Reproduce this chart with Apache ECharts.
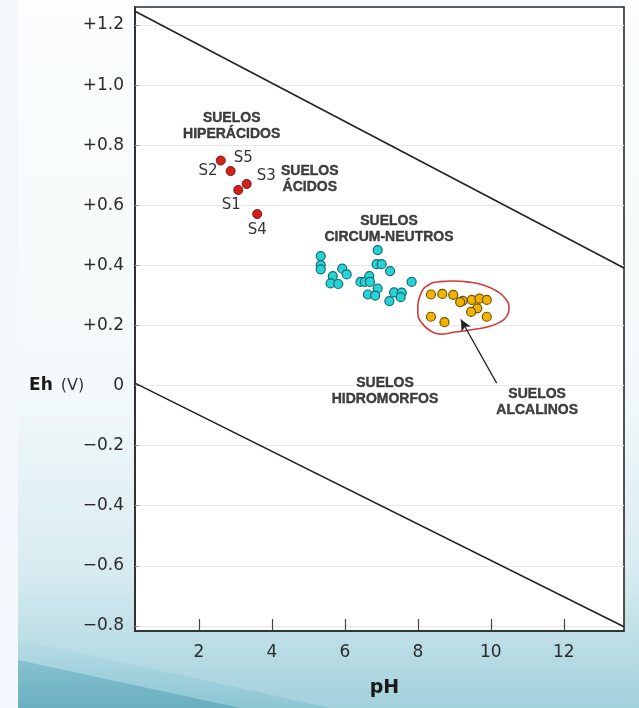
<!DOCTYPE html>
<html>
<head>
<meta charset="utf-8">
<script src="https://cdn.jsdelivr.net/npm/echarts@6/dist/echarts.min.js"></script>
<style>
  html, body { margin: 0; padding: 0; background: #ffffff; }
  #chart { width: 639px; height: 708px; }
</style>
</head>
<body>
<div id="chart"></div>
<script>
// Eh–pH diagram of soil types

// axis ticks
const phTicks = [2, 4, 6, 8, 10, 12];
const ehTicks = [-0.8, -0.6, -0.4, -0.2, 0, 0.2, 0.4, 0.6, 0.8, 1.0, 1.2];
const ehTickLabels = ['−0.8', '−0.6', '−0.4', '−0.2', '0', '+0.2', '+0.4', '+0.6', '+0.8', '+1.0', '+1.2'];

// acid soil samples
const acidNames = ['S5', 'S2', 'S3', 'S1', 'S4'];
const acidPH = [2.60, 2.87, 3.31, 3.08, 3.60];
const acidEh = [0.749, 0.714, 0.671, 0.651, 0.571];

// circum-neutral soils
const neutralPH = [5.34, 5.34, 5.34, 5.67, 5.61, 5.82, 5.93, 6.05, 6.90, 6.87, 7.01, 7.24,
                   6.43, 6.55, 6.67, 6.69, 6.90, 6.63, 6.83, 7.22, 7.35, 7.56, 7.53, 7.83];
const neutralEh = [0.431, 0.401, 0.387, 0.364, 0.340, 0.338, 0.389, 0.370, 0.451, 0.404, 0.404, 0.381,
                   0.345, 0.345, 0.364, 0.345, 0.323, 0.303, 0.299, 0.281, 0.310, 0.309, 0.294, 0.345];

// alkaline soils
const alkalinePH = [8.36, 8.67, 8.97, 9.23, 9.16, 9.48, 9.69, 9.89, 9.63, 9.46, 8.36, 8.73, 9.89];
const alkalineEh = [0.303, 0.305, 0.302, 0.282, 0.278, 0.285, 0.289, 0.285, 0.257, 0.245, 0.229, 0.211, 0.229];

// water stability limits
const upperLimitPH = [0.25, 13.65];
const upperLimitEh = [1.246, 0.391];
const lowerLimitPH = [0.25, 13.65];
const lowerLimitEh = [0.008, -0.803];

// outline around the alkaline group
const outlinePH = [8.00, 8.09, 8.28, 8.61, 8.94, 9.43, 9.81, 10.17, 10.39, 10.50, 10.44, 10.25,
                   9.90, 9.43, 9.02, 8.61, 8.31, 8.11, 8.00, 8.00];
const outlineEh = [0.268, 0.308, 0.334, 0.346, 0.348, 0.344, 0.334, 0.314, 0.291, 0.258, 0.231, 0.211,
                   0.195, 0.185, 0.178, 0.171, 0.185, 0.208, 0.238, 0.268];

// pointer from the alkaline caption to its group
const arrowPH = [10.16, 9.18];
const arrowEh = [0.008, 0.220];

// zone captions
const zoneTitles = ['SUELOS\nHIPERÁCIDOS', 'SUELOS\nÁCIDOS', 'SUELOS\nCIRCUM-NEUTROS', 'SUELOS\nHIDROMORFOS', 'SUELOS\nALCALINOS'];
const zonePH = [2.90, 5.04, 7.21, 7.10, 11.27];
const zoneEh = [0.862, 0.686, 0.521, -0.017, -0.054];

const zip = (a, b) => a.map((v, i) => [v, b[i]]);

const sampleLabelPlacement = {
  S5: { position: 'right', distance: 8, offset: [0, -2] },
  S2: { position: 'left', distance: 8, offset: [0, 0] },
  S3: { position: 'right', distance: 5, offset: [0, -8] },
  S1: { position: 'bottom', distance: 3, offset: [-7, 0] },
  S4: { position: 'bottom', distance: 4, offset: [0, 0] }
};

// decorative swoosh in the lower-left corner of the page (quadratic curve sampled to a polygon)
function swoosh(x0, y0, cx, cy, x1, y1) {
  const pts = [];
  for (let k = 0; k <= 24; k++) {
    const t = k / 24, u = 1 - t;
    pts.push([u * u * x0 + 2 * u * t * cx + t * t * x1, u * u * y0 + 2 * u * t * cy + t * t * y1]);
  }
  pts.push([x0, y1]);
  return pts;
}

const chart = echarts.init(document.getElementById('chart'), null, { renderer: 'canvas' });

const capFont = 'Liberation Sans, Arial, sans-serif';
const numFont = 'DejaVu Sans, Verdana, sans-serif';

const option = {
  animation: false,
  backgroundColor: {
    type: 'linear', x: 0, y: 0, x2: 0, y2: 1,
    colorStops: [
      { offset: 0, color: '#fbfdfe' },
      { offset: 0.55, color: '#f3f9fa' },
      { offset: 0.8, color: '#d9ecf1' },
      { offset: 1, color: '#a3d1dc' }
    ]
  },
  graphic: [
    {
      type: 'rect', z: -100, silent: true,
      shape: { x: 0, y: 0, width: 18, height: 708 },
      style: { fill: '#f4f7fc' }
    },
    {
      type: 'polygon', z: -90, silent: true,
      shape: { points: swoosh(18, 640, 160, 670, 330, 708) },
      style: {
        fill: {
          type: 'linear', x: 0, y: 0, x2: 0, y2: 1,
          colorStops: [{ offset: 0, color: '#b7dce5' }, { offset: 1, color: '#8cc6d3' }]
        }
      }
    },
    {
      type: 'polygon', z: -80, silent: true,
      shape: { points: swoosh(18, 660, 120, 682, 240, 708) },
      style: {
        fill: {
          type: 'linear', x: 0, y: 0, x2: 0, y2: 1,
          colorStops: [{ offset: 0, color: '#86c1cf' }, { offset: 1, color: '#6aafc0' }]
        }
      }
    }
  ],
  grid: {
    left: 135, right: 15, top: 7, bottom: 77,
    show: true,
    backgroundColor: '#ffffff',
    borderColor: '#2a2a2a',
    borderWidth: 1.6
  },
  xAxis: {
    type: 'value',
    min: 0.25, max: 13.65,
    name: 'pH',
    nameLocation: 'middle',
    nameGap: 48,
    nameTextStyle: { fontFamily: numFont, fontSize: 19, fontWeight: 'bold', color: '#1a1a1a', padding: [0, 0, 0, 10] },
    axisLine: { show: true, onZero: false, lineStyle: { color: '#2a2a2a', width: 1.6 } },
    axisTick: { show: true, inside: true, length: 12, customValues: phTicks, lineStyle: { color: '#444', width: 1.2 } },
    axisLabel: { customValues: phTicks, fontFamily: numFont, fontSize: 17, color: '#2b2b2b', margin: 13 },
    splitLine: { show: false }
  },
  yAxis: {
    type: 'value',
    min: -0.817, max: 1.26,
    axisLine: { show: true, onZero: false, lineStyle: { color: '#2a2a2a', width: 1.6 } },
    axisTick: { show: true, inside: true, length: 4, customValues: ehTicks, lineStyle: { color: '#999', width: 1 } },
    axisLabel: {
      customValues: ehTicks,
      margin: 11,
      fontFamily: numFont, fontSize: 17, color: '#2b2b2b',
      formatter: function (v) {
        const i = ehTicks.findIndex(t => Math.abs(t - v) < 1e-6);
        const txt = i >= 0 ? ehTickLabels[i] : '';
        if (Math.abs(v) < 1e-6) return '{eh|Eh}{v|(V)}{z|' + txt + '}';
        return txt;
      },
      rich: {
        eh: { fontFamily: numFont, fontSize: 17, fontWeight: 'bold', color: '#1a1a1a' },
        v: { fontFamily: numFont, fontSize: 16, color: '#333', padding: [0, 0, 0, 8] },
        z: { fontFamily: numFont, fontSize: 17, color: '#2b2b2b', padding: [0, 0, 0, 29] }
      }
    },
    splitLine: { show: true, lineStyle: { color: '#e8e8e8', width: 1.2 } }
  },
  series: [
    {
      name: 'upper',
      type: 'line',
      data: zip(upperLimitPH, upperLimitEh),
      symbol: 'none',
      lineStyle: { color: '#222', width: 1.6 },
      z: 3
    },
    {
      name: 'lower',
      type: 'line',
      data: zip(lowerLimitPH, lowerLimitEh),
      symbol: 'none',
      lineStyle: { color: '#222', width: 1.6 },
      z: 3
    },
    {
      name: 'outline',
      type: 'line',
      data: zip(outlinePH, outlineEh),
      smooth: 0.5,
      symbol: 'none',
      lineStyle: { color: '#d33a3a', width: 1.6 },
      z: 3,
      markLine: {
        silent: true,
        animation: false,
        symbol: ['none', 'arrow'],
        symbolSize: [8, 11],
        label: { show: false },
        lineStyle: { color: '#222', width: 1.3, type: 'solid' },
        emphasis: { disabled: true },
        data: [[
          { coord: [arrowPH[0], arrowEh[0]] },
          { coord: [arrowPH[1], arrowEh[1]] }
        ]]
      }
    },
    {
      name: 'neutral',
      type: 'scatter',
      data: zip(neutralPH, neutralEh),
      symbolSize: 9,
      itemStyle: { color: '#27d3d6', borderColor: '#156a74', borderWidth: 1.2, opacity: 1 },
      z: 5
    },
    {
      name: 'alkaline',
      type: 'scatter',
      data: zip(alkalinePH, alkalineEh),
      symbolSize: 9,
      itemStyle: { color: '#f2b400', borderColor: '#6e5200', borderWidth: 1.2, opacity: 1 },
      z: 5
    },
    {
      name: 'acid',
      type: 'scatter',
      data: acidPH.map((p, i) => {
        const pl = sampleLabelPlacement[acidNames[i]];
        return {
          name: acidNames[i],
          value: [p, acidEh[i]],
          label: { show: true, formatter: acidNames[i], position: pl.position, distance: pl.distance, offset: pl.offset }
        };
      }),
      symbolSize: 9,
      itemStyle: { color: '#d4201a', borderColor: '#7e150f', borderWidth: 1, opacity: 1 },
      label: { fontFamily: numFont, fontSize: 15, color: '#333' },
      z: 5
    },
    {
      name: 'zones',
      type: 'scatter',
      data: zip(zonePH, zoneEh).map((v, i) => ({ value: v, name: zoneTitles[i] })),
      symbolSize: 1,
      itemStyle: { color: 'rgba(0,0,0,0)' },
      label: {
        show: true,
        position: 'inside',
        formatter: p => p.name,
        fontFamily: capFont, fontSize: 14, fontWeight: 'bold', color: '#111',
        textBorderColor: '#111', textBorderWidth: 0.4,
        lineHeight: 16, align: 'center'
      },
      silent: true,
      z: 6
    }
  ]
};

chart.setOption(option);
</script>
</body>
</html>
